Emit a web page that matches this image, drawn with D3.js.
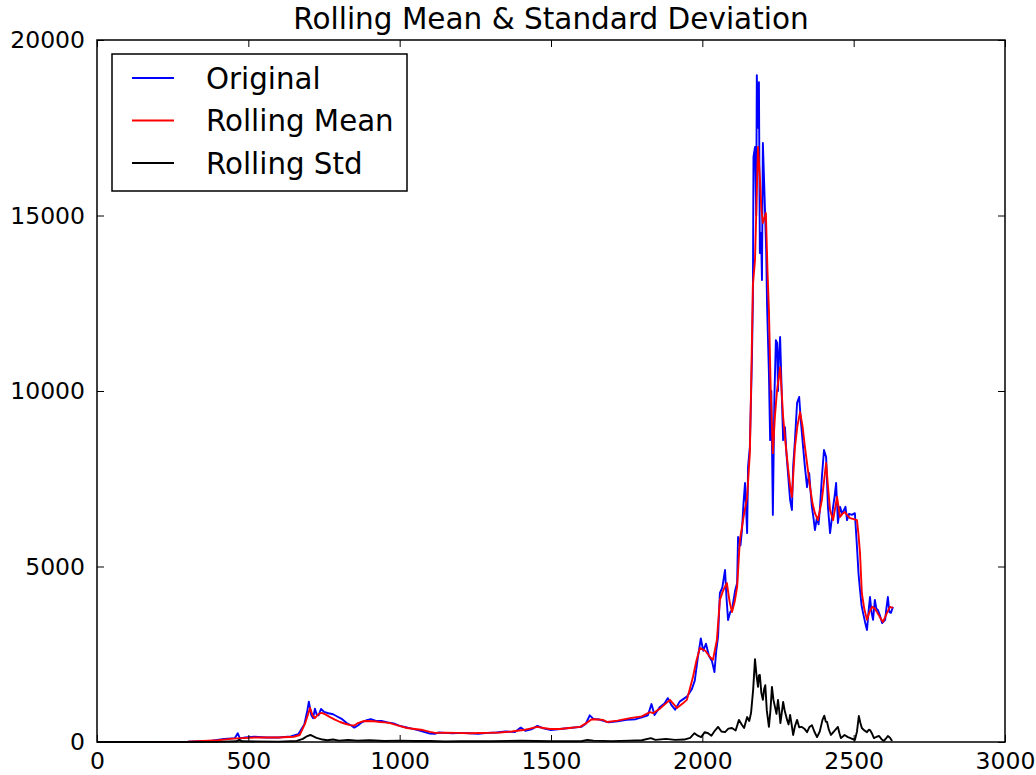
<!DOCTYPE html>
<html>
<head>
<meta charset="utf-8">
<script src="https://cdn.jsdelivr.net/npm/d3@7/dist/d3.min.js"></script>
<style>
	body { margin: 0; background: #fff; }
	svg { display: block; }
</style>
</head>
<body>
<script>
// series: [index, value]
var original = [
	[0,0],[100,0],[200,5],[300,10],[380,40],[420,90],[455,110],[465,250],[472,100],[490,130],[520,150],[560,130],[600,130],[640,160],[665,220],[685,500],[695,900],[700,1150],[704,960],[708,760],[714,680],[720,950],[726,780],[732,760],[740,940],[750,860],[765,820],[780,790],[795,720],[810,650],[825,540],[840,470],[850,410],[862,470],[875,560],[890,620],[905,650],[920,610],[940,600],[960,560],[980,530],[1000,460],[1020,420],[1040,380],[1060,340],[1080,290],[1100,240],[1115,230],[1130,270],[1150,260],[1175,250],[1200,260],[1230,250],[1260,230],[1290,260],[1320,270],[1350,300],[1380,280],[1400,410],[1415,320],[1435,360],[1455,460],[1475,390],[1500,340],[1530,370],[1560,400],[1600,430],[1615,520],[1628,760],[1640,660],[1660,640],[1690,560],[1720,590],[1750,630],[1780,650],[1800,700],[1820,760],[1832,1080],[1842,770],[1860,1000],[1875,1100],[1886,1250],[1898,1050],[1910,920],[1925,1150],[1950,1300],[1965,1500],[1975,1750],[1985,2400],[1995,2950],[2003,2600],[2012,2800],[2022,2450],[2032,2300],[2040,1990],[2046,2600],[2052,3000],[2058,4245],[2066,4400],[2075,4900],[2080,4100],[2085,3475],[2092,3700],[2098,3760],[2108,4300],[2115,4530],[2118,5840],[2126,5600],[2131,6040],[2136,6800],[2141,7380],[2148,5950],[2151,7830],[2157,8400],[2164,10970],[2167,12590],[2169,16670],[2174,16950],[2178,15000],[2180,19000],[2184,17500],[2187,18800],[2190,13930],[2194,14500],[2197,13160],[2200,17070],[2204,16000],[2207,15160],[2211,14000],[2214,12390],[2220,10500],[2224,8600],[2228,10000],[2233,6470],[2238,9800],[2243,11450],[2247,11370],[2250,10000],[2253,11000],[2257,11540],[2263,9740],[2267,8600],[2273,8970],[2278,8200],[2283,7660],[2290,6900],[2296,6610],[2300,7830],[2306,8600],[2313,9660],[2320,9830],[2325,9200],[2329,8800],[2334,8300],[2339,7830],[2346,7260],[2353,7660],[2358,7100],[2362,6700],[2367,6400],[2372,6040],[2379,6410],[2384,6200],[2389,6700],[2395,7550],[2402,8320],[2409,8120],[2415,6700],[2422,5950],[2427,6300],[2432,6700],[2437,7000],[2442,7380],[2448,6240],[2455,6700],[2462,6500],[2468,6610],[2473,6700],[2478,6320],[2485,6500],[2494,6470],[2504,6520],[2511,5550],[2516,4800],[2521,4330],[2526,3900],[2531,3680],[2538,3400],[2544,3190],[2549,3700],[2554,4130],[2559,3700],[2564,3480],[2570,4050],[2575,3800],[2580,3760],[2587,3600],[2594,3390],[2604,3480],[2608,3800],[2613,4130],[2618,3700],[2623,3680],[2630,3850]
];

var rollingMean = [
	[0,0],[200,3],[300,8],[400,50],[450,95],[480,110],[520,130],[560,130],[600,130],[650,150],[670,200],[688,540],[704,970],[712,760],[720,680],[732,800],[743,830],[756,780],[770,710],[786,640],[803,570],[820,520],[836,480],[850,470],[862,540],[878,590],[892,600],[915,590],[935,570],[950,560],[968,540],[990,480],[1024,400],[1050,370],[1077,340],[1100,290],[1117,260],[1150,265],[1189,260],[1230,250],[1265,255],[1289,260],[1332,270],[1370,300],[1408,340],[1430,380],[1454,430],[1475,400],[1497,370],[1530,370],[1560,400],[1596,430],[1615,530],[1635,650],[1655,640],[1672,630],[1685,570],[1720,610],[1761,680],[1800,730],[1827,850],[1837,820],[1860,950],[1893,1200],[1916,970],[1935,1100],[1949,1200],[1969,1850],[1980,2300],[1992,2680],[2010,2600],[2025,2420],[2035,2340],[2048,2900],[2058,4050],[2068,4300],[2081,4530],[2090,4000],[2098,3700],[2107,4000],[2115,4420],[2124,5750],[2136,6400],[2148,6980],[2157,8230],[2162,10500],[2167,13000],[2174,13730],[2184,16950],[2190,16100],[2195,15200],[2200,14790],[2210,15070],[2215,13500],[2220,12310],[2226,10000],[2233,8230],[2240,9300],[2247,10030],[2257,10680],[2262,10000],[2267,9260],[2275,8500],[2283,7830],[2290,7300],[2296,6980],[2306,8400],[2314,9000],[2323,9400],[2331,9000],[2339,8400],[2348,7800],[2356,7260],[2364,6800],[2372,6520],[2382,6320],[2395,6900],[2403,7500],[2409,7950],[2415,7300],[2422,6610],[2432,6320],[2445,6980],[2455,6410],[2463,6500],[2471,6550],[2480,6450],[2488,6380],[2500,6350],[2511,6320],[2516,5900],[2521,5380],[2527,4240],[2535,3800],[2544,3480],[2552,3700],[2561,3850],[2570,3800],[2577,3700],[2587,3550],[2597,3420],[2610,3680],[2620,3850],[2630,3820]
];

var rollingStd = [
	[0,0],[400,5],[460,20],[470,60],[480,20],[600,10],[660,30],[680,90],[695,170],[705,200],[715,160],[725,120],[740,80],[760,50],[780,70],[800,40],[830,60],[860,40],[900,50],[950,30],[1000,40],[1050,30],[1100,30],[1150,15],[1200,20],[1300,20],[1400,40],[1450,30],[1500,20],[1550,25],[1600,20],[1620,60],[1640,40],[1700,25],[1760,40],[1800,50],[1830,110],[1845,60],[1880,90],[1910,60],[1940,70],[1960,120],[1974,250],[1985,180],[1996,140],[2008,280],[2019,250],[2030,180],[2041,320],[2052,430],[2063,300],[2075,280],[2086,380],[2098,400],[2110,330],[2121,630],[2130,500],[2138,400],[2148,710],[2155,600],[2161,830],[2168,1500],[2174,2360],[2179,1900],[2184,1570],[2187,1900],[2190,1910],[2195,1400],[2200,1200],[2204,1500],[2208,1620],[2213,900],[2220,430],[2225,900],[2230,1570],[2235,1200],[2240,1000],[2245,800],[2250,1200],[2254,900],[2258,540],[2262,800],[2267,1140],[2272,900],[2280,630],[2285,500],[2290,770],[2295,500],[2300,200],[2306,450],[2313,630],[2320,420],[2329,430],[2337,380],[2346,280],[2354,430],[2362,480],[2370,300],[2379,140],[2388,300],[2397,630],[2403,750],[2408,580],[2412,570],[2418,350],[2425,200],[2435,300],[2448,430],[2453,250],[2458,110],[2470,200],[2481,140],[2492,100],[2504,60],[2511,300],[2517,740],[2522,550],[2527,400],[2535,330],[2544,280],[2550,350],[2554,340],[2560,250],[2567,110],[2576,150],[2584,170],[2592,80],[2600,30],[2607,100],[2613,170],[2620,120],[2627,30]
];

var xTicks = [0, 500, 1000, 1500, 2000, 2500, 3000];
var yTicks = [0, 5000, 10000, 15000, 20000];

var series = [
	{ name: "Original", color: "#0000ff", data: original },
	{ name: "Rolling Mean", color: "#ff0000", data: rollingMean },
	{ name: "Rolling Std", color: "#000000", data: rollingStd }
];

var width = 1036,
	height = 775,
	margin = { top: 40, right: 31, bottom: 33, left: 97 },
	plotW = width - margin.left - margin.right,
	plotH = height - margin.top - margin.bottom,
	tickLen = 7,
	font = "DejaVu Sans";

var svg = d3.select("body").append("svg")
	.attr("width", width)
	.attr("height", height);

var x = d3.scaleLinear().domain([0, 3000]).range([0, plotW]);
var y = d3.scaleLinear().domain([0, 20000]).range([plotH, 0]);

var g = svg.append("g")
	.attr("transform", translate(margin.left, margin.top));

g.append("clipPath")
	.attr("id", "clip")
	.append("rect")
	.attr("y", -2)
	.attr("width", plotW)
	.attr("height", plotH + 4);

// lines
var line = d3.line()
	.x(function (d) { return x(d[0]); })
	.y(function (d) { return y(d[1]); });

g.append("g")
	.attr("clip-path", "url(#clip)")
	.selectAll("path")
	.data(series)
	.enter()
	.append("path")
	.attr("d", function (d) { return line(d.data); })
	.attr("fill", "none")
	.attr("stroke", function (d) { return d.color; })
	.attr("stroke-width", 1.9)
	.attr("stroke-linejoin", "round");

// axes, ticks pointing inward on all four sides
function styleAxis(sel) {
	sel.select(".domain").remove();
	sel.selectAll("line").attr("stroke", "#000").attr("stroke-width", 1);
	sel.selectAll("text")
		.attr("font-family", font)
		.attr("font-size", "23.5px")
		.attr("fill", "#000");
}

g.append("g")
	.attr("transform", translate(0, plotH))
	.call(d3.axisBottom(x).tickValues(xTicks).tickFormat(d3.format("d")).tickSizeInner(-tickLen).tickPadding(10))
	.call(styleAxis);

g.append("g")
	.call(d3.axisTop(x).tickValues(xTicks).tickSizeInner(-tickLen).tickFormat(""))
	.call(styleAxis);

g.append("g")
	.call(d3.axisLeft(y).tickValues(yTicks).tickFormat(d3.format("d")).tickSizeInner(-tickLen).tickPadding(12))
	.call(styleAxis);

g.append("g")
	.attr("transform", translate(plotW, 0))
	.call(d3.axisRight(y).tickValues(yTicks).tickSizeInner(-tickLen).tickFormat(""))
	.call(styleAxis);

// frame
g.append("rect")
	.attr("width", plotW)
	.attr("height", plotH)
	.attr("fill", "none")
	.attr("stroke", "#000")
	.attr("stroke-width", 1.5);

// title
svg.append("text")
	.text("Rolling Mean & Standard Deviation")
	.attr("x", margin.left + plotW / 2)
	.attr("y", 29)
	.attr("text-anchor", "middle")
	.attr("font-family", font)
	.attr("font-size", "29.5px")
	.attr("fill", "#000");

// legend
var legend = g.append("g")
	.attr("transform", translate(15, 14));

legend.append("rect")
	.attr("width", 295)
	.attr("height", 137)
	.attr("fill", "#fff")
	.attr("stroke", "#000")
	.attr("stroke-width", 1.5);

var item = legend.selectAll("g.item")
	.data(series)
	.enter()
	.append("g")
	.attr("class", "item")
	.attr("transform", function (d, i) { return translate(0, 24 + i * 42.5); });

item.append("line")
	.attr("x1", 20)
	.attr("x2", 62)
	.attr("stroke", function (d) { return d.color; })
	.attr("stroke-width", 1.8);

item.append("text")
	.text(function (d) { return d.name; })
	.attr("x", 94)
	.attr("dy", "0.36em")
	.attr("font-family", font)
	.attr("font-size", "29.3px")
	.attr("fill", "#000");

function translate(a, b) {
	return "translate(" + a + "," + b + ")";
}
</script>
</body>
</html>
